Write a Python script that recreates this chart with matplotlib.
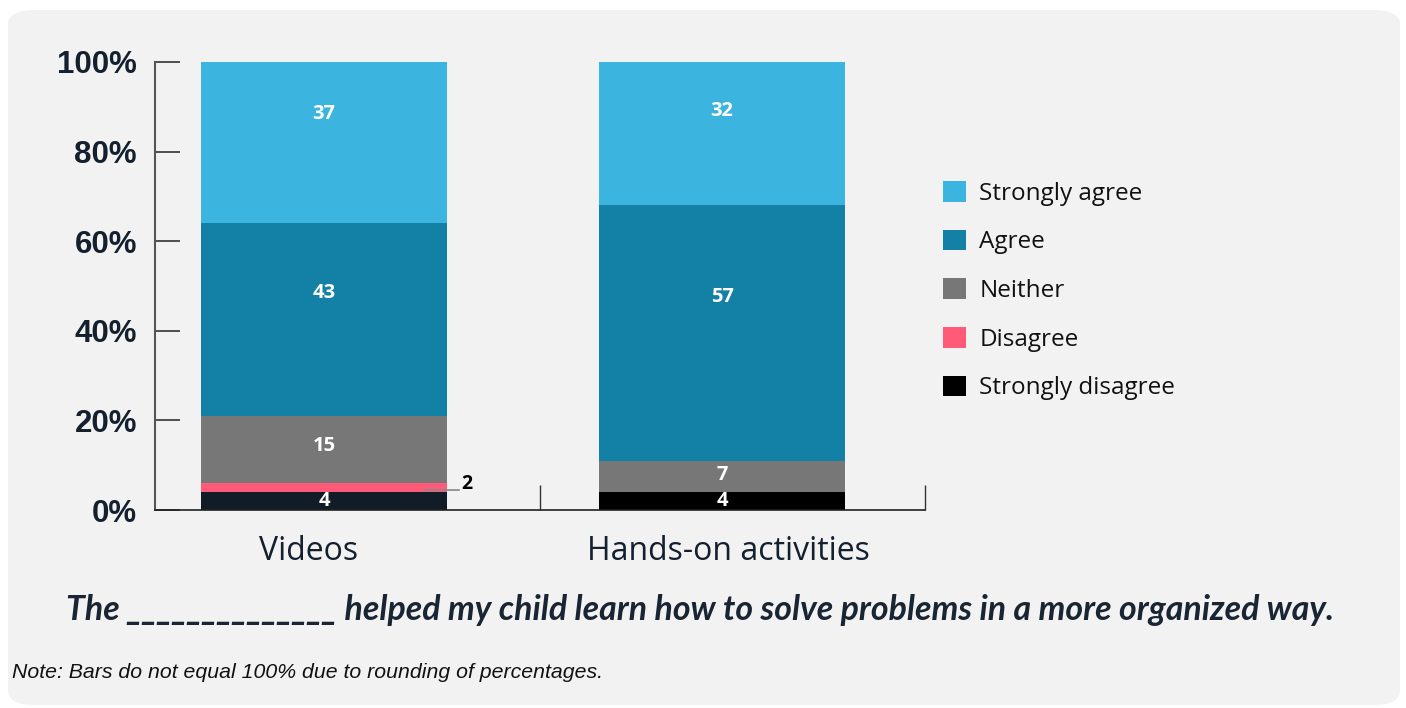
import matplotlib
matplotlib.use("Agg")
import matplotlib.pyplot as plt
from matplotlib.patches import FancyBboxPatch, Patch
import numpy as np

categories = ["Videos", "Hands-on activities"]
series = ["Strongly disagree", "Disagree", "Neither", "Agree", "Strongly agree"]
strongly_disagree = [4, 4]
disagree = [2, 0]
neither = [15, 7]
agree = [43, 57]
strongly_agree = [37, 32]
y_ticks = [0, 20, 40, 60, 80, 100]
y_tick_labels = ["0%", "20%", "40%", "60%", "80%", "100%"]

values = [strongly_disagree, disagree, neither, agree, strongly_agree]
colors = ["#121c27", "#ff5a78", "#777777", "#1380a6", "#3bb5df"]
label_frac = [0.5, 0.5, 0.55, 0.64, 0.66]
cat_label_offset = [-0.04, 0.015]

fig = plt.figure(figsize=(14.06, 7.08), dpi=100, facecolor="white")
panel = FancyBboxPatch((8 / 1406, 3 / 708), 1392 / 1406, 695 / 708,
                       boxstyle="round,pad=0,rounding_size=0.02",
                       transform=fig.transFigure, facecolor="#f2f2f2",
                       edgecolor="none", zorder=-10)
fig.patches.append(panel)

ax = fig.add_axes([155 / 1406, 1 - 510 / 708, (925 - 155) / 1406, (510 - 62) / 708])
ax.set_zorder(2)
ax.set_facecolor("none")

x = np.arange(len(categories))
width = 0.62
bottom = np.zeros(len(categories))
for i, (name, vals) in enumerate(zip(series, values)):
    vals = np.array(vals, dtype=float)
    cols = [colors[i]] * len(categories)
    if name == "Strongly disagree":
        cols = ["#121c27", "#000000"]
    ax.bar(x, vals, width, bottom=bottom, color=cols, edgecolor="none", zorder=2)
    for j, v in enumerate(vals):
        if v <= 0:
            continue
        cy = bottom[j] + v * label_frac[i]
        if name == "Disagree":
            xr = x[j] + width / 2
            ax.plot([xr - 0.06, xr + 0.03], [cy - 0.6, cy - 0.6], color="#888888", lw=1.2, zorder=3)
            ax.text(xr + 0.035, cy + 0.7, f"{int(v)}", ha="left", va="center",
                    fontsize=14, fontweight="bold", color="black", family="Open Sans", zorder=4)
        else:
            ax.text(x[j], cy, f"{int(v)}", ha="center", va="center",
                    fontsize=14.5, fontweight="bold", color="white", family="Open Sans", zorder=4)
    bottom += vals

ax.set_xlim(-0.425, 1.51)
ax.set_ylim(0, 100)
ax.set_yticks(y_ticks)
ax.set_yticklabels(y_tick_labels, fontsize=22.5, fontweight="bold", color="#14202e",
                   family="Liberation Sans")
ax.tick_params(axis="y", direction="in", length=18, width=1.2, color="#333333", pad=13)
ax.set_xticks([0.543, 1.51])
ax.set_xticklabels([])
ax.tick_params(axis="x", direction="in", length=18, width=1, color="#333333")
for s in ["top", "right"]:
    ax.spines[s].set_visible(False)
ax.spines["left"].set_color("#555555")
ax.spines["left"].set_linewidth(1.5)
ax.spines["bottom"].set_color("#222222")
ax.spines["bottom"].set_linewidth(1.2)

for j, c in enumerate(categories):
    ax.text(x[j] + cat_label_offset[j], -5.6, c, ha="center", va="top", fontsize=23,
            color="#14202e", family="Open Sans")

handles = [Patch(facecolor=c) for c in ["#3bb5df", "#1380a6", "#777777", "#ff5a78", "#000000"]]
labels = ["Strongly agree", "Agree", "Neither", "Disagree", "Strongly disagree"]
leg = fig.legend(handles, labels, loc="upper left", bbox_to_anchor=(921 / 1406, 1 - 159 / 708),
                 frameon=False, prop={"family": "Open Sans", "size": 17.5},
                 handlelength=0.95, handleheight=0.95, handletextpad=0.55, labelspacing=0.98)
for t in leg.get_texts():
    t.set_color("#111111")

fig.text(700 / 1406, 1 - 610 / 708,
         "The ______________ helped my child learn how to solve problems in a more organized way.",
         ha="center", va="center", fontsize=24.4, fontweight="bold", style="italic",
         color="#1a2533", family="Lato")
fig.text(12 / 1406, 1 - 673 / 708, "Note: Bars do not equal 100% due to rounding of percentages.",
         ha="left", va="center", fontsize=15.3, style="italic", color="#111111",
         family="Liberation Sans")

fig.savefig("out.png", dpi=100, facecolor="white")
